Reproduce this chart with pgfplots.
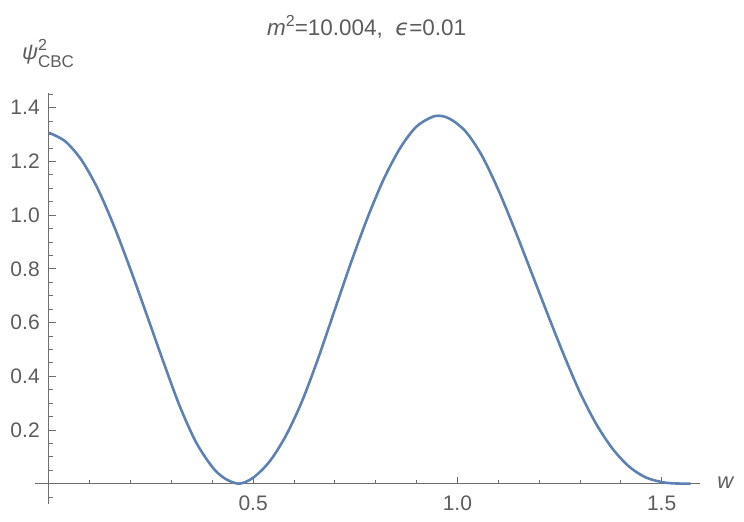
\documentclass[border=0pt]{standalone}
\usepackage{pgfplots}
\pgfplotsset{compat=1.18}
\usepackage{fontspec}
\setmainfont{Liberation Sans}
\newfontfamily\dejavu{DejaVu Sans}
\definecolor{curve}{RGB}{94,129,181}
\definecolor{txt}{RGB}{92,92,92}
\definecolor{axc}{RGB}{110,110,110}
\begin{document}
\begin{tikzpicture}
\begin{axis}[
  scale only axis,
  width=665bp, height=410.8bp,
  axis lines=middle,
  axis line style={axc, line width=0.9bp, -},
  xmin=-0.034, xmax=1.594,
  ymin=-0.075, ymax=1.455,
  clip=false,
  xtick={0.5,1.0,1.5},
  xticklabels={0.5,1.0,1.5},
  minor xtick={0.1,0.2,0.3,0.4,0.6,0.7,0.8,0.9,1.1,1.2,1.3,1.4},
  ytick={0.2,0.4,0.6,0.8,1.0,1.2,1.4},
  yticklabels={0.2,0.4,0.6,0.8,1.0,1.2,1.4},
  minor ytick={-0.05,0.05,0.1,0.15,0.25,0.3,0.35,0.45,0.5,0.55,0.65,0.7,0.75,0.85,0.9,0.95,1.05,1.1,1.15,1.25,1.3,1.35,1.45},
  tick align=inside,
  major tick length=7bp,
  minor tick length=4bp,
  tick style={axc, line width=0.8bp},
  every tick label/.append style={font=\fontsize{21bp}{25bp}\selectfont, text=txt, inner sep=0pt},
  xticklabel style={anchor=north, yshift=-12bp},
  yticklabel style={anchor=east, xshift=-9bp},
]
\addplot[curve, line width=2.6bp, smooth, tension=0.5] coordinates {
(0,1.307) (0.04,1.275) (0.08,1.205) (0.12,1.097) (0.16,0.957)
(0.20,0.797) (0.24,0.627) (0.28,0.455) (0.32,0.290) (0.36,0.155)
(0.40,0.062) (0.43,0.020) (0.465,0.000) (0.50,0.022) (0.54,0.082)
(0.58,0.178) (0.62,0.308) (0.66,0.470) (0.70,0.648) (0.74,0.825)
(0.78,0.990) (0.82,1.135) (0.86,1.250) (0.90,1.330) (0.945,1.369)
(0.98,1.360) (1.02,1.312) (1.06,1.222) (1.10,1.095) (1.14,0.948)
(1.18,0.792) (1.22,0.635) (1.26,0.482) (1.30,0.340) (1.34,0.222)
(1.38,0.130) (1.42,0.064) (1.46,0.024) (1.50,0.006) (1.53,0.001)
(1.5708,0.0)
};
\node[anchor=base west, inner sep=0pt, text=txt, font=\fontsize{22bp}{26bp}\selectfont] at (axis cs:1.636,-0.0198) {\itshape w};
\node[anchor=base west, inner sep=0pt, text=txt, font=\fontsize{22bp}{26bp}\selectfont] at (axis cs:-0.066,1.579) {\itshape ψ\rlap{\raisebox{9bp}{\fontsize{16bp}{19bp}\selectfont\upshape 2}}\raisebox{-8.2bp}{\fontsize{17bp}{20bp}\selectfont\upshape CBC}};
\node[anchor=base, inner sep=0pt, text=txt, font=\fontsize{22.5bp}{27bp}\selectfont] at (axis description cs:0.4988,1.1405) {\itshape m\upshape\raisebox{9bp}{\fontsize{16bp}{19bp}\selectfont 2}=10.004,\ \ {\dejavu\itshape ϵ}=0.01};
\end{axis}
\pgfresetboundingbox
\path[use as bounding box] ([xshift=-35bp,yshift=-18.2bp]current axis.south west) rectangle ([xshift=44bp,yshift=93bp]current axis.north east);
\end{tikzpicture}
\end{document}
